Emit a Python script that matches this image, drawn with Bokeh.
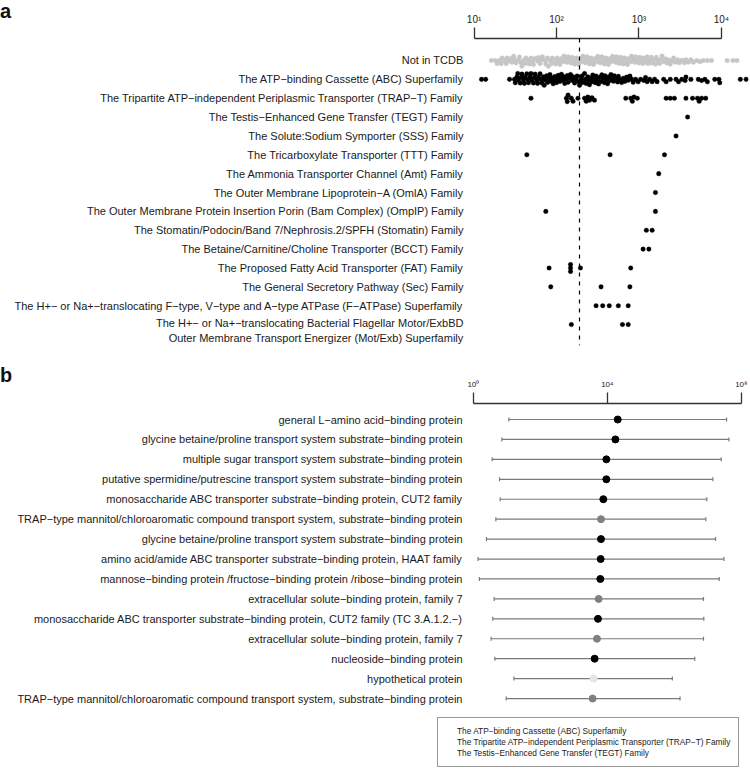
from bokeh.plotting import figure
from bokeh.models import (Range1d, FixedTicker, Span, Whisker, ColumnDataSource, Div,
                          Legend, LegendItem, TeeHead, CustomJSTickFormatter)
from bokeh.layouts import column, row
from bokeh.embed import file_html
from bokeh.resources import INLINE

FONT = "Liberation Sans"

# ---------------- Panel a data ----------------
families_a = [
    "Not in TCDB",
    "The ATP\u2212binding Cassette (ABC) Superfamily",
    "The Tripartite ATP\u2212independent Periplasmic Transporter (TRAP\u2212T) Family",
    "The Testis\u2212Enhanced Gene Transfer (TEGT) Family",
    "The Solute:Sodium Symporter (SSS) Family",
    "The Tricarboxylate Transporter (TTT) Family",
    "The Ammonia Transporter Channel (Amt) Family",
    "The Outer Membrane Lipoprotein\u2212A (OmlA) Family",
    "The Outer Membrane Protein Insertion Porin (Bam Complex) (OmpIP) Family",
    "The Stomatin/Podocin/Band 7/Nephrosis.2/SPFH (Stomatin) Family",
    "The Betaine/Carnitine/Choline Transporter (BCCT) Family",
    "The Proposed Fatty Acid Transporter (FAT) Family",
    "The General Secretory Pathway (Sec) Family",
    "The H+\u2212 or Na+\u2212translocating F\u2212type, V\u2212type and A\u2212type ATPase (F\u2212ATPase) Superfamily",
    "The H+\u2212 or Na+\u2212translocating Bacterial Flagellar Motor/ExbBD\nOuter Membrane Transport Energizer (Mot/Exb) Superfamily",
]

# values as log10 exponents
not_in_tcdb_log10 = [1.21, 1.26, 1.28, 1.31, 1.33, 1.34, 1.37, 1.39, 1.40, 1.42, 1.45, 1.46, 1.48,
                     1.49, 1.51, 1.54, 1.55, 1.57, 1.58, 1.60, 1.62, 1.63, 1.66, 1.67, 1.69, 1.71,
                     1.72, 1.74, 1.77, 1.78, 1.80, 1.81, 1.83, 1.86, 1.87, 1.89, 1.90, 1.92, 1.94,
                     1.95, 1.98, 1.99, 2.01, 2.03, 2.04, 2.06, 2.08, 2.09, 2.11, 2.13, 2.14, 2.16,
                     2.18, 2.19, 2.21, 2.22, 2.24, 2.26, 2.27, 2.29, 2.31, 2.32, 2.34, 2.35, 2.37,
                     2.39, 2.40, 2.42, 2.44, 2.45, 2.47, 2.49, 2.50, 2.52, 2.53, 2.55, 2.57, 2.58,
                     2.60, 2.62, 2.63, 2.65, 2.67, 2.68, 2.70, 2.72, 2.73, 2.75, 2.76, 2.78, 2.80,
                     2.81, 2.83, 2.85, 2.86, 2.88, 2.90, 2.91, 2.93, 2.95, 2.96, 2.98, 3.00, 3.01,
                     3.03, 3.05, 3.06, 3.08, 3.10, 3.11, 3.13, 3.15, 3.16, 3.18, 3.20, 3.21, 3.23,
                     3.25, 3.27, 3.28, 3.30, 3.32, 3.34, 3.36, 3.38, 3.40, 3.42, 3.44, 3.47, 3.49,
                     3.52, 3.55, 3.57, 3.60, 3.63, 3.66, 3.70, 3.74, 3.78, 3.83, 3.88, 4.07, 4.14,
                     4.19]
abc_log10 = [1.09, 1.14, 1.43,
             1.49, 1.50, 1.52, 1.53, 1.54, 1.56, 1.57, 1.58, 1.60, 1.61, 1.62, 1.64, 1.65, 1.66,
             1.68, 1.69, 1.70, 1.72, 1.73, 1.74, 1.76, 1.77, 1.78, 1.80, 1.81, 1.82, 1.84, 1.85,
             1.86, 1.88, 1.89, 1.90, 1.92, 1.93, 1.94, 1.96, 1.97, 1.98, 2.00, 2.01, 2.02, 2.04,
             2.05, 2.06, 2.08, 2.09, 2.10, 2.12, 2.13, 2.14, 2.16, 2.17, 2.19, 2.20, 2.22, 2.24,
             2.25, 2.27, 2.28, 2.30, 2.31, 2.32, 2.34, 2.35, 2.36, 2.38, 2.39, 2.40, 2.42, 2.43,
             2.44, 2.46, 2.47, 2.48, 2.50, 2.51, 2.52, 2.54, 2.55, 2.56, 2.58, 2.59, 2.60, 2.62,
             2.63, 2.64, 2.66, 2.67, 2.69, 2.70, 2.72, 2.74, 2.75, 2.77, 2.79, 2.81, 2.83, 2.85,
             2.87, 2.89, 2.91, 2.93, 2.96, 2.99, 3.02,
             3.06, 3.08, 3.10, 3.13, 3.16, 3.19, 3.22, 3.30, 3.33, 3.38, 3.45, 3.48, 3.52, 3.56,
             3.57, 3.63, 3.72, 3.76, 3.80, 3.83, 3.92, 3.97, 3.98, 4.23, 4.30]
trap_log10 = [1.69, 2.12, 2.13, 2.14, 2.18, 2.20, 2.26, 2.34, 2.36, 2.38, 2.40, 2.43, 2.46,
              2.84, 2.90, 2.92, 2.94, 2.98, 3.33, 3.38, 3.43, 3.57, 3.65, 3.71, 3.73, 3.76, 3.81]
tegt_log10 = [3.59]
sss_log10 = [3.45]
ttt_log10 = [1.64, 2.65, 3.31]
amt_log10 = [3.24]
omla_log10 = [3.20]
ompip_log10 = [1.87, 3.20]
stomatin_log10 = [3.09, 3.16]
bcct_log10 = [3.05, 3.12]
fat_log10 = [1.91, 2.17, 2.17, 2.17, 2.29, 2.90]
sec_log10 = [1.93, 2.54, 2.89]
fatpase_log10 = [2.48, 2.56, 2.64, 2.75, 2.87]
motexb_log10 = [2.18, 2.80, 2.87]

rows_a = [not_in_tcdb_log10, abc_log10, trap_log10, tegt_log10, sss_log10, ttt_log10,
          amt_log10, omla_log10, ompip_log10, stomatin_log10, bcct_log10, fat_log10,
          sec_log10, fatpase_log10, motexb_log10]
threshold_a = 190
ticks_a = [10, 100, 1000, 10000]

# ---------------- Panel b data ----------------
proteins_b = [
    "general L\u2212amino acid\u2212binding protein",
    "glycine betaine/proline transport system substrate\u2212binding protein",
    "multiple sugar transport system substrate\u2212binding protein",
    "putative spermidine/putrescine transport system substrate\u2212binding protein",
    "monosaccharide ABC transporter substrate\u2212binding protein, CUT2 family",
    "TRAP\u2212type mannitol/chloroaromatic compound transport system, substrate\u2212binding protein",
    "glycine betaine/proline transport system substrate\u2212binding protein",
    "amino acid/amide ABC transporter substrate\u2212binding protein, HAAT family",
    "mannose\u2212binding protein /fructose\u2212binding protein /ribose\u2212binding protein",
    "extracellular solute\u2212binding protein, family 7",
    "monosaccharide ABC transporter substrate\u2212binding protein, CUT2 family (TC 3.A.1.2.\u2212)",
    "extracellular solute\u2212binding protein, family 7",
    "nucleoside\u2212binding protein",
    "hypothetical protein",
    "TRAP\u2212type mannitol/chloroaromatic compound transport system, substrate\u2212binding protein",
]
family_b = ["ABC", "ABC", "ABC", "ABC", "ABC", "TRAP", "ABC", "ABC", "ABC", "TRAP", "ABC",
            "TRAP", "ABC", "TEGT", "TRAP"]
center_b_log10 = [4.31, 4.24, 3.97, 3.97, 3.88, 3.81, 3.81, 3.80, 3.79, 3.74, 3.72, 3.69, 3.62, 3.59, 3.56]
low_b_log10 = [1.06, 0.85, 0.56, 0.78, 0.80, 0.67, 0.39, 0.14, 0.18, 0.62, 0.58, 0.53, 0.64, 1.21, 0.98]
high_b_log10 = [7.56, 7.63, 7.40, 7.15, 6.97, 6.94, 7.23, 7.48, 7.34, 6.87, 6.88, 6.87, 6.61, 5.94, 6.17]
legend_b = [
    ("ABC", "The ATP\u2212binding Cassette (ABC) Superfamily"),
    ("TRAP", "The Tripartite ATP\u2212independent Periplasmic Transporter (TRAP\u2212T) Family"),
    ("TEGT", "The Testis\u2212Enhanced Gene Transfer (TEGT) Family"),
]
ticks_b = [1, 10**4, 10**8]

fam_colors = {"ABC": "#000000", "TRAP": "#808080", "TEGT": "#e6e6e6"}

sup_js = """
const sup = {'0':'\u2070','1':'\u00b9','2':'\u00b2','3':'\u00b3','4':'\u2074','5':'\u2075',
             '6':'\u2076','7':'\u2077','8':'\u2078','9':'\u2079'};
const e = Math.round(Math.log10(tick));
return '10' + String(e).split('').map(c => sup[c]).join('');
"""


def swarm(xs, d):
    order = sorted(range(len(xs)), key=lambda i: xs[i])
    placed = []
    ys = [0.0] * len(xs)
    for i in order:
        x = xs[i]
        nb = [(px, py) for px, py in placed if abs(px - x) < d]
        cands = [0.0]
        for px, py in nb:
            dy = (d * d - (px - x) ** 2) ** 0.5
            cands += [py + dy, py - dy]
        cands.sort(key=abs)
        for c in cands:
            if all((px - x) ** 2 + (py - c) ** 2 >= d * d - 1e-6 for px, py in nb):
                ys[i] = c
                break
        placed.append((x, ys[i]))
    return ys


def style_top_axis(ax, ticks, size, standoff):
    ax.ticker = FixedTicker(ticks=ticks)
    ax.formatter = CustomJSTickFormatter(code=sup_js)
    ax.bounds = (ticks[0], ticks[-1])
    ax.major_tick_out = 11
    ax.major_tick_in = 0
    ax.minor_tick_line_color = None
    ax.axis_line_width = 1.3
    ax.major_tick_line_width = 1.3
    ax.axis_line_color = "#333333"
    ax.major_tick_line_color = "#333333"
    ax.major_label_text_font = FONT
    ax.major_label_text_font_size = size
    ax.major_label_text_color = "#222222"
    ax.major_label_standoff = standoff


def style_label_axis(ax, labels, ticks, standoff):
    ax.ticker = FixedTicker(ticks=ticks)
    ax.formatter = CustomJSTickFormatter(args=dict(labels=labels),
                                         code="return labels[Math.round(tick)];")
    ax.axis_line_color = None
    ax.major_tick_line_color = None
    ax.minor_tick_line_color = None
    ax.major_tick_out = 0
    ax.major_tick_in = 0
    ax.minor_tick_out = 0
    ax.minor_tick_in = 0
    ax.major_label_text_font = FONT
    ax.major_label_text_font_size = "11px"
    ax.major_label_text_color = "#1a1a1a"
    ax.major_label_standoff = standoff


LETTER_W = 11
FIG_W = 750 - LETTER_W
FRAME_L = 436          # page x of the (aligned) frames' left edge
FRAME_R = 748          # page x of the frames' right edge
LABEL_R = 462          # page x where the row labels end

# ---------------- Panel a ----------------
PX_DEC_A = 82.7     # pixels per decade
PX_ROW_A = 18.86    # pixels per row
X10_A = 472.7       # page x of 10^1

pa = figure(width=FIG_W, height=355, x_axis_type="log", x_axis_location="above",
            x_range=Range1d(10 ** (1 + (FRAME_L - X10_A) / PX_DEC_A),
                            10 ** (1 + (FRAME_R - X10_A) / PX_DEC_A)),
            y_range=Range1d(15.11, -1.166),
            output_backend="svg", toolbar_location=None,
            min_border_left=FRAME_L - LETTER_W, min_border_right=750 - FRAME_R,
            min_border_top=38, min_border_bottom=10)
pa.grid.visible = False
pa.outline_line_color = None
style_top_axis(pa.xaxis[0], ticks_a, "10px", 3)
ticks_rows_a = list(range(len(families_a) - 1)) + [len(families_a) - 1 + 0.32]
style_label_axis(pa.yaxis[0], families_a, ticks_rows_a, FRAME_L - LABEL_R)

xs_a, ys_a, cs_a = [], [], []
for r, vals in enumerate(rows_a):
    offs = swarm([v * PX_DEC_A for v in vals], 3.5)
    for v, o in zip(vals, offs):
        xs_a.append(10 ** v)
        ys_a.append(r + o / PX_ROW_A)
        cs_a.append("#c6c6c6" if r == 0 else "#000000")

pa.add_layout(Span(location=threshold_a, dimension="height", line_color="#000000",
                   line_width=1.2, line_dash="4 5"))
pa.scatter(xs_a, ys_a, size=4.6, fill_color=cs_a, line_color=cs_a, line_width=0.3)

# ---------------- Panel b ----------------
PX_DEC_B = 33.6
X0_B = 472.0        # page x of 10^0

pb = figure(width=FIG_W, height=416, x_axis_type="log", x_axis_location="above",
            x_range=Range1d(10 ** ((FRAME_L - X0_B) / PX_DEC_B),
                            10 ** ((FRAME_R - X0_B) / PX_DEC_B)),
            y_range=Range1d(17.66, -0.803),
            output_backend="svg", toolbar_location=None,
            min_border_left=FRAME_L - LETTER_W, min_border_right=750 - FRAME_R,
            min_border_top=48, min_border_bottom=0)
pb.grid.visible = False
pb.outline_line_color = None
style_top_axis(pb.xaxis[0], ticks_b, "8px", 4)
style_label_axis(pb.yaxis[0], proteins_b, list(range(len(proteins_b))), FRAME_L - LABEL_R + 1)

src_b = ColumnDataSource(dict(
    y=list(range(len(proteins_b))),
    x=[10 ** v for v in center_b_log10],
    lo=[10 ** v for v in low_b_log10],
    hi=[10 ** v for v in high_b_log10],
    color=[fam_colors[f] for f in family_b],
))
pb.add_layout(Whisker(source=src_b, base="y", lower="lo", upper="hi", dimension="width",
                      line_color="#7a7a7a", line_width=1.2,
                      lower_head=TeeHead(size=4, line_color="#7a7a7a", line_width=1.2),
                      upper_head=TeeHead(size=4, line_color="#7a7a7a", line_width=1.2)))
pb.scatter("x", "y", source=src_b, size=7, fill_color="color", line_color="color")

items = []
for fam, text in legend_b:
    r = pb.scatter(x=[], y=[], marker="square", size=5, fill_color=fam_colors[fam],
                   line_color=fam_colors[fam])
    items.append(LegendItem(label=text, renderers=[r]))
legend = Legend(items=items, location=(0, 4), margin=0, padding=8, spacing=1,
                glyph_width=8, glyph_height=8, label_height=8, label_standoff=3,
                label_text_font=FONT, label_text_font_size="8.3px", label_text_color="#222222",
                border_line_color="#333333", border_line_width=1.5, background_fill_alpha=1.0)
pb.add_layout(legend)

letters = Div(text=(
    '<div style="position:relative;width:%dpx;height:771px;font-family:\'Liberation Sans\',Arial,'
    'sans-serif;font-weight:bold;font-size:20px;color:#111;line-height:23px;">'
    '<span style="position:absolute;left:0px;top:0px;">a</span>'
    '<span style="position:absolute;left:0px;top:364px;">b</span></div>' % LETTER_W),
    width=LETTER_W, height=771, margin=0)

layout = row(letters, column(pa, pb, spacing=0), spacing=0)
open("out.html", "w").write(file_html(layout, INLINE))
